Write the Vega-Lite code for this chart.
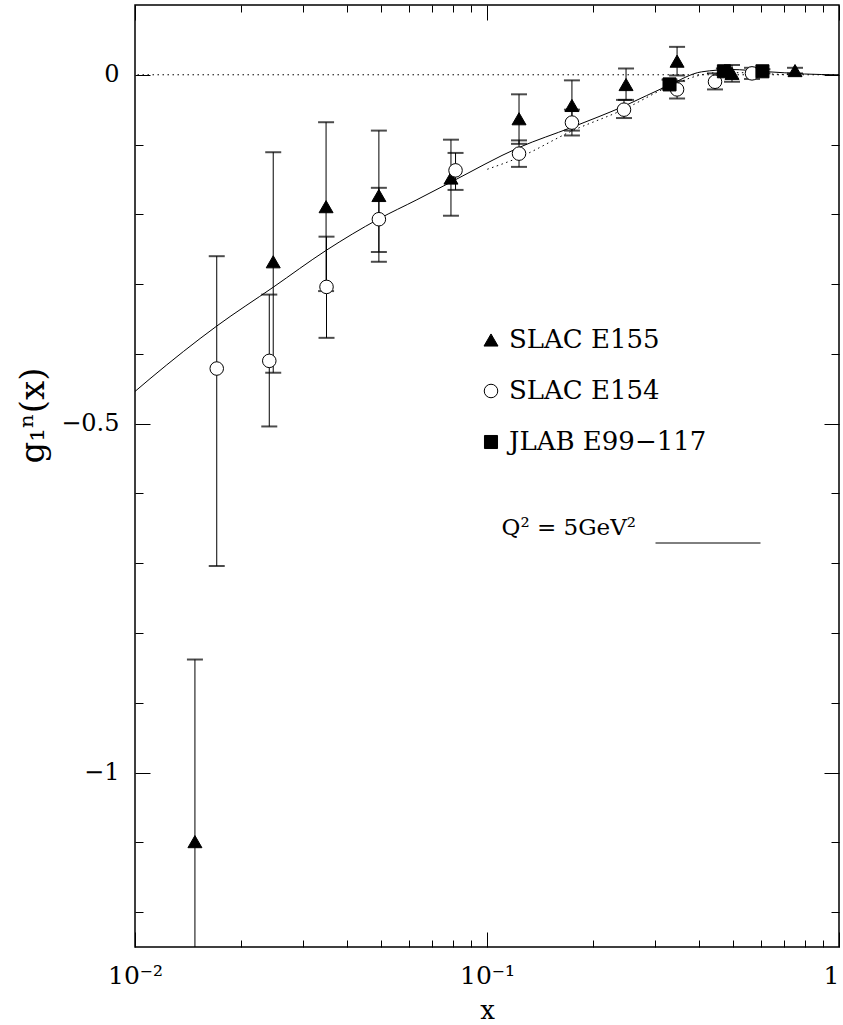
{
  "$schema": "https://vega.github.io/schema/vega-lite/v6.json",
  "autosize": {"type": "none"},
  "width": 704,
  "height": 942,
  "padding": {"left": 135, "top": 5, "right": 4, "bottom": 78},
  "background": "white",
  "config": {
    "view": {"stroke": "black", "strokeWidth": 1.5},
    "axis": {"domain": false, "grid": false, "labelFont": "DejaVu Serif", "labelColor": "black", "tickColor": "black", "tickWidth": 1, "titleFont": "DejaVu Serif", "titleColor": "black", "titleFontWeight": "normal", "labelOverlap": false, "labelFlush": false, "labelBound": false}
  },
  "datasets": {
    "points": [
      {"s": "SLAC E155", "x": 0.0148, "y": -1.099, "lo": -1.36, "hi": -0.838},
      {"s": "SLAC E155", "x": 0.0247, "y": -0.268, "lo": -0.427, "hi": -0.111},
      {"s": "SLAC E155", "x": 0.0349, "y": -0.189, "lo": -0.310, "hi": -0.068},
      {"s": "SLAC E155", "x": 0.0493, "y": -0.173, "lo": -0.268, "hi": -0.080},
      {"s": "SLAC E155", "x": 0.0790, "y": -0.148, "lo": -0.202, "hi": -0.093},
      {"s": "SLAC E155", "x": 0.1233, "y": -0.063, "lo": -0.099, "hi": -0.028},
      {"s": "SLAC E155", "x": 0.1743, "y": -0.044, "lo": -0.080, "hi": -0.008},
      {"s": "SLAC E155", "x": 0.2483, "y": -0.014, "lo": -0.036, "hi": 0.009},
      {"s": "SLAC E155", "x": 0.3467, "y": 0.0195, "lo": -0.001, "hi": 0.040},
      {"s": "SLAC E155", "x": 0.4966, "y": 0.002, "lo": -0.010, "hi": 0.014},
      {"s": "SLAC E155", "x": 0.75, "y": 0.006, "lo": 0.002, "hi": 0.010},
      {"s": "SLAC E154", "x": 0.01707, "y": -0.421, "lo": -0.704, "hi": -0.260},
      {"s": "SLAC E154", "x": 0.02407, "y": -0.410, "lo": -0.504, "hi": -0.315},
      {"s": "SLAC E154", "x": 0.0350, "y": -0.304, "lo": -0.377, "hi": -0.232},
      {"s": "SLAC E154", "x": 0.0493, "y": -0.207, "lo": -0.254, "hi": -0.162},
      {"s": "SLAC E154", "x": 0.0814, "y": -0.137, "lo": -0.165, "hi": -0.112},
      {"s": "SLAC E154", "x": 0.1233, "y": -0.113, "lo": -0.132, "hi": -0.094},
      {"s": "SLAC E154", "x": 0.1743, "y": -0.0685, "lo": -0.087, "hi": -0.050},
      {"s": "SLAC E154", "x": 0.2450, "y": -0.050, "lo": -0.062, "hi": -0.036},
      {"s": "SLAC E154", "x": 0.3467, "y": -0.021, "lo": -0.034, "hi": -0.009},
      {"s": "SLAC E154", "x": 0.4444, "y": -0.010, "lo": -0.021, "hi": 0.002},
      {"s": "SLAC E154", "x": 0.5660, "y": 0.002, "lo": -0.006, "hi": 0.010},
      {"s": "JLAB E99−117", "x": 0.330, "y": -0.0138, "lo": -0.020, "hi": -0.007},
      {"s": "JLAB E99−117", "x": 0.471, "y": 0.005, "lo": 0.001, "hi": 0.009},
      {"s": "JLAB E99−117", "x": 0.606, "y": 0.005, "lo": 0.002, "hi": 0.008}
    ],
    "solid": [
      {"x": 0.01, "y": -0.4538}, {"x": 0.01103, "y": -0.4356}, {"x": 0.01707, "y": -0.3601},
      {"x": 0.02474, "y": -0.3042}, {"x": 0.03488, "y": -0.2518}, {"x": 0.04918, "y": -0.2068},
      {"x": 0.0632, "y": -0.1791}, {"x": 0.0790, "y": -0.1538}, {"x": 0.1233, "y": -0.1042},
      {"x": 0.1743, "y": -0.0752}, {"x": 0.2450, "y": -0.0450}, {"x": 0.3278, "y": -0.0152},
      {"x": 0.4068, "y": 0.0042}, {"x": 0.4997, "y": 0.0075}, {"x": 0.5970, "y": 0.0050},
      {"x": 0.6988, "y": 0.0029}, {"x": 0.7987, "y": 0.0011}, {"x": 1.0, "y": 0.0}
    ],
    "dotted": [
      {"x": 0.1002, "y": -0.1354}, {"x": 0.1233, "y": -0.1185}, {"x": 0.1743, "y": -0.0805},
      {"x": 0.2450, "y": -0.0495}, {"x": 0.3278, "y": -0.0170}, {"x": 0.40, "y": -0.001},
      {"x": 0.45, "y": 0.003}, {"x": 0.55, "y": 0.003}, {"x": 0.65, "y": 0.001}, {"x": 0.75, "y": 0.0}
    ],
    "zero": [{"y": 0}]
  },
  "resolve": {"axis": {"x": "independent", "y": "independent"}},
  "layer": [
    {
      "data": {"name": "solid"},
      "mark": {"type": "line", "strokeWidth": 1, "interpolate": "monotone", "clip": true},
      "encoding": {
        "x": {"field": "x", "type": "quantitative",
          "scale": {"type": "log", "domain": [0.01, 1], "nice": false},
          "axis": {"orient": "bottom",
            "values": [0.01, 0.02, 0.03, 0.04, 0.05, 0.06, 0.07, 0.08, 0.09, 0.1, 0.2, 0.3, 0.4, 0.5, 0.6, 0.7, 0.8, 0.9, 1],
            "tickSize": {"condition": {"test": "datum.value == 0.01 || datum.value == 0.1 || datum.value == 1", "value": -15}, "value": -7},
            "labelExpr": "datum.value == 0.01 ? '10⁻²' : datum.value == 0.1 ? '10⁻¹' : datum.value == 1 ? '1' : ''",
            "labelAlign": {"condition": {"test": "datum.value == 1", "value": "right"}, "value": "center"},
            "labelFontSize": 25, "labelBaseline": "alphabetic", "labelPadding": 51,
            "title": "x", "titleFontSize": 26, "titleY": 50, "titleBaseline": "top"}},
        "y": {"field": "y", "type": "quantitative",
          "scale": {"domain": [-1.25, 0.1], "nice": false, "zero": false},
          "axis": {"orient": "left",
            "values": [0, -0.1, -0.2, -0.3, -0.4, -0.5, -0.6, -0.7, -0.8, -0.9, -1, -1.1, -1.2],
            "tickSize": {"condition": {"test": "datum.value == 0 || datum.value == -0.5 || datum.value == -1", "value": -15}, "value": -8},
            "labelExpr": "datum.value == 0 ? '0' : datum.value == -0.5 ? '−0.5' : datum.value == -1 ? '−1' : ''",
            "labelFontSize": 24, "labelPadding": 31,
            "title": "g₁ⁿ(x)", "titleFontSize": 34, "titleX": -102, "titleY": 410, "titleAngle": -90, "titleBaseline": "middle", "titleAlign": "center"}},
        "color": {"datum": "Q² = 5GeV²", "type": "nominal", "scale": {"range": ["black"]},
          "legend": {"orient": "none", "legendX": 520, "legendY": 485, "title": null, "padding": 0,
            "symbolType": "stroke", "symbolSize": 11025, "symbolStrokeWidth": 1, "symbolStrokeColor": "#333",
            "labelAlign": "right", "labelOffset": -125, "labelFontSize": 23, "labelFont": "DejaVu Serif", "labelColor": "black",
            "labelBaseline": "alphabetic",
            "encode": {"labels": {"update": {"dy": {"value": -8}}}}}}
      }
    },
    {
      "data": {"name": "dotted"},
      "mark": {"type": "line", "strokeWidth": 1, "strokeDash": [1.5, 3.5], "color": "black", "interpolate": "monotone", "clip": true},
      "encoding": {
        "x": {"field": "x", "type": "quantitative",
          "axis": {"orient": "top", "title": null, "labels": false,
            "values": [0.01, 0.02, 0.03, 0.04, 0.05, 0.06, 0.07, 0.08, 0.09, 0.1, 0.2, 0.3, 0.4, 0.5, 0.6, 0.7, 0.8, 0.9, 1],
            "tickSize": {"condition": {"test": "datum.value == 0.01 || datum.value == 0.1 || datum.value == 1", "value": -15}, "value": -7}}},
        "y": {"field": "y", "type": "quantitative",
          "axis": {"orient": "right", "title": null, "labels": false,
            "values": [0, -0.1, -0.2, -0.3, -0.4, -0.5, -0.6, -0.7, -0.8, -0.9, -1, -1.1, -1.2],
            "tickSize": {"condition": {"test": "datum.value == 0 || datum.value == -0.5 || datum.value == -1", "value": -15}, "value": -8}}}
      }
    },
    {
      "data": {"name": "zero"},
      "mark": {"type": "rule", "strokeWidth": 1, "strokeDash": [1.5, 3.5], "color": "black"},
      "encoding": {"y": {"field": "y", "type": "quantitative", "axis": null}}
    },
    {
      "data": {"name": "points"},
      "mark": {"type": "rule", "strokeWidth": 1, "color": "black", "clip": true},
      "encoding": {
        "x": {"field": "x", "type": "quantitative", "axis": null},
        "y": {"field": "lo", "type": "quantitative", "axis": null},
        "y2": {"field": "hi"}
      }
    },
    {
      "data": {"name": "points"},
      "mark": {"type": "tick", "orient": "horizontal", "size": 16, "thickness": 2, "color": "black", "clip": true},
      "encoding": {
        "x": {"field": "x", "type": "quantitative", "axis": null},
        "y": {"field": "lo", "type": "quantitative", "axis": null}
      }
    },
    {
      "data": {"name": "points"},
      "mark": {"type": "tick", "orient": "horizontal", "size": 16, "thickness": 2, "color": "black", "clip": true},
      "encoding": {
        "x": {"field": "x", "type": "quantitative", "axis": null},
        "y": {"field": "hi", "type": "quantitative", "axis": null}
      }
    },
    {
      "data": {"name": "points"},
      "mark": {"type": "point", "filled": true, "stroke": "black", "strokeWidth": 1, "opacity": 1, "clip": true},
      "encoding": {
        "x": {"field": "x", "type": "quantitative", "axis": null},
        "y": {"field": "y", "type": "quantitative", "axis": null},
        "shape": {"field": "s", "type": "nominal",
          "scale": {"domain": ["SLAC E155", "SLAC E154", "JLAB E99−117"], "range": ["triangle-up", "circle", "square"]},
          "legend": {"orient": "none", "legendX": 343, "legendY": 322, "title": null, "padding": 0,
            "labelFont": "DejaVu Serif", "labelFontSize": 26, "labelColor": "black", "rowPadding": 25, "labelOffset": 5,
            "labelLimit": 0, "symbolStrokeColor": "black", "symbolStrokeWidth": 1}},
        "fill": {"field": "s", "type": "nominal",
          "scale": {"domain": ["SLAC E155", "SLAC E154", "JLAB E99−117"], "range": ["black", "white", "black"]}},
        "size": {"field": "s", "type": "nominal",
          "scale": {"domain": ["SLAC E155", "SLAC E154", "JLAB E99−117"], "range": [196, 170, 90]}}
      }
    }
  ]
}
